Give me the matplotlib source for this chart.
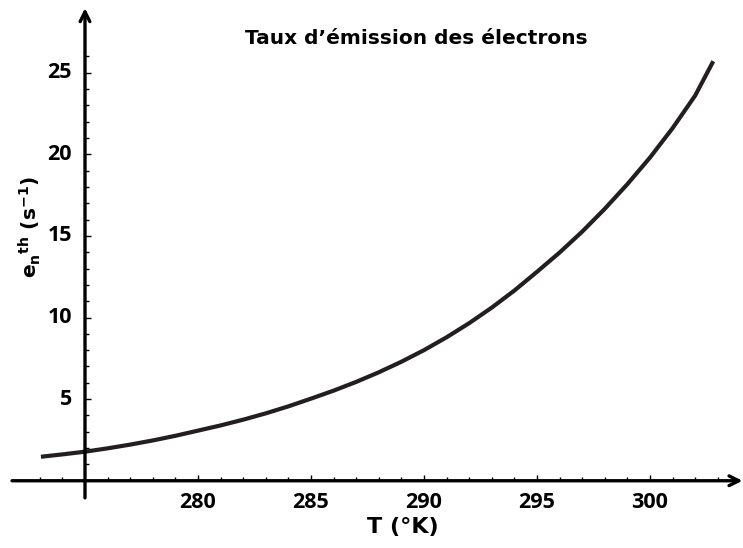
import matplotlib
matplotlib.use("Agg")
import matplotlib.pyplot as plt

T = [273.05, 274, 275, 276, 277, 278, 279, 280, 281, 282, 283, 284, 285, 286, 287,
     288, 289, 290, 291, 292, 293, 294, 295, 296, 297, 298, 299, 300, 301, 302, 302.8]
en = [1.47, 1.614, 1.78, 1.985, 2.214, 2.469, 2.753, 3.07, 3.389, 3.741, 4.129, 4.557,
      5.03, 5.519, 6.056, 6.644, 7.29, 8.0, 8.789, 9.655, 10.607, 11.653, 12.8, 13.98,
      15.26, 16.66, 18.17, 19.8, 21.6, 23.6, 25.7]
xticks_major = [280, 285, 290, 295, 300]
yticks_major = [5, 10, 15, 20, 25]
title = "Taux d\u2019émission des électrons"
xlabel = "T (°K)"

plt.rcParams['font.family'] = ['Open Sans', 'DejaVu Sans']
LBL = ['DejaVu Sans']

fig = plt.figure(figsize=(7.43, 5.48), dpi=100)
ax = fig.add_axes([0, 0, 1, 1])
x0, x1 = 271.239, 304.115
y0, y1 = -4.12, 29.45
ax.set_xlim(x0, x1)
ax.set_ylim(y0, y1)
ax.axis('off')

px_x = (x1 - x0) / 743.0
px_y = (y1 - y0) / 548.0

# axes lines with arrows
ax.annotate("", xy=(x1 - 0.5 * px_x, 0), xytext=(271.77, 0),
            arrowprops=dict(arrowstyle="->,head_length=0.7,head_width=0.35", lw=2.4, color="black",
                            shrinkA=0, shrinkB=0))
ax.annotate("", xy=(275, 28.95), xytext=(275, -1.05),
            arrowprops=dict(arrowstyle="->,head_length=0.7,head_width=0.35", lw=2.4, color="black",
                            shrinkA=0, shrinkB=0))

# x ticks
for t in range(273, 304):
    if t == 275:
        continue
    h = 5 if t in xticks_major else 3
    ax.plot([t, t], [0, (h + 1) * px_y], color="black", lw=1.0, solid_capstyle='butt')
for t in xticks_major:
    ax.text(t, -(502 - 480.7) * px_y, str(t), ha='center', va='center',
            fontsize=15.5, fontweight='bold', color='black')

# y ticks
for v in range(1, 27):
    w = 5 if v in yticks_major else 3
    ax.plot([275, 275 + (w + 1) * px_x], [v, v], color="black", lw=1.0, solid_capstyle='butt')
for v in yticks_major:
    ax.text(275 - (85 - 72) * px_x, v, str(v), ha='right', va='center',
            fontsize=15.5, fontweight='bold', color='black')

# curve
ax.plot(T, en, color="#231f20", lw=3.0, solid_capstyle='butt', solid_joinstyle='round')

# title and labels
fig.text(416 / 743, 1 - 38 / 548, title, ha='center', va='center',
         fontsize=14.5, fontweight='bold', family=LBL)
fig.text(403 / 743, 1 - 527 / 548, xlabel, ha='center', va='center',
         fontsize=16, fontweight='bold', family=LBL)
fig.text(30 / 743, 1 - 227 / 548,
         r"e$_\mathregular{n}$$^\mathregular{th}$ (s$^\mathregular{-1}$)",
         ha='center', va='center', rotation=90, fontsize=14.5, fontweight='bold', family=LBL)

fig.savefig("out.png", dpi=100)
